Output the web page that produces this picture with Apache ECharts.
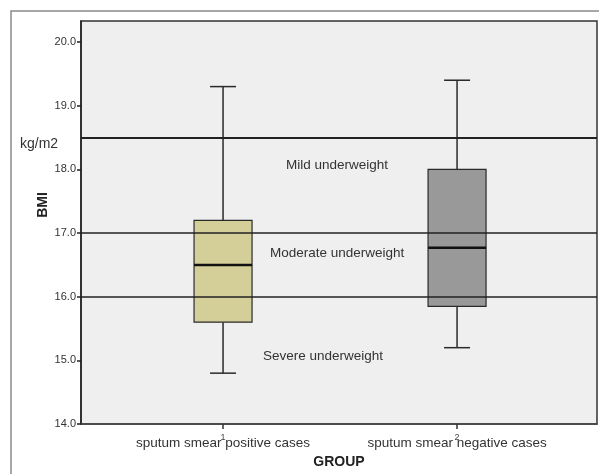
<!DOCTYPE html>
<html>
<head>
<meta charset="utf-8">
<script src="https://cdn.jsdelivr.net/npm/echarts@6/dist/echarts.min.js"></script>
<style>
html,body{margin:0;padding:0;background:#fff;}
#main{width:599px;height:474px;}
</style>
</head>
<body>
<div id="main"></div>
<script>
//数据
var groups = ['sputum smear positive cases', 'sputum smear negative cases']
var groupCodes = [1, 2]
// [min, Q1, median, Q3, max]
var positiveBox = [14.8, 15.6, 16.5, 17.2, 19.3]
var negativeBox = [15.2, 15.85, 16.77, 18.0, 19.4]
var boxColors = ['#d4cf98', '#999999']
var cutoffs = [18.5, 17.0, 16.0]
var yTicks = [14, 15, 16, 17, 18, 19, 20]
var zoneNames = ['Mild underweight', 'Moderate underweight', 'Severe underweight']

var myChart = echarts.init(document.getElementById('main'))
var fontFam = 'Liberation Sans, Arial, sans-serif'

var boxData = [
	[groupCodes[0]].concat(positiveBox),
	[groupCodes[1]].concat(negativeBox)
]

//箱线图 自己画,须线帽子短一些,中位线粗一些
function renderBox(params, api) {
	var x = api.value(0)
	var pMin = api.coord([x, api.value(1)])
	var pQ1 = api.coord([x, api.value(2)])
	var pMed = api.coord([x, api.value(3)])
	var pQ3 = api.coord([x, api.value(4)])
	var pMax = api.coord([x, api.value(5)])
	var cx = pMed[0]
	var halfBox = 29
	var halfCap = 13
	var lineSty = { stroke: '#2a2a2a', lineWidth: 1.5 }
	return {
		type: 'group',
		children: [
			{ type: 'line', shape: { x1: cx, y1: pMax[1], x2: cx, y2: pQ3[1] }, style: lineSty },
			{ type: 'line', shape: { x1: cx, y1: pQ1[1], x2: cx, y2: pMin[1] }, style: lineSty },
			{ type: 'line', shape: { x1: cx - halfCap, y1: pMax[1], x2: cx + halfCap, y2: pMax[1] }, style: lineSty },
			{ type: 'line', shape: { x1: cx - halfCap, y1: pMin[1], x2: cx + halfCap, y2: pMin[1] }, style: lineSty },
			{
				type: 'rect',
				shape: { x: cx - halfBox, y: pQ3[1], width: halfBox * 2, height: pQ1[1] - pQ3[1] },
				style: { fill: boxColors[params.dataIndex], stroke: '#2a2a2a', lineWidth: 1.2 }
			},
			{ type: 'line', shape: { x1: cx - halfBox, y1: pMed[1], x2: cx + halfBox, y2: pMed[1] }, style: { stroke: '#111', lineWidth: 2.5 } }
		]
	}
}

var option = {
	animation: false,
	textStyle: { fontFamily: fontFam },
	grid: {
		left: 81,
		right: 2,
		top: 21,
		bottom: 47,
		show: true,
		backgroundColor: '#efefef',
		borderColor: '#333',
		borderWidth: 1.5
	},
	xAxis: [
		{
			type: 'value',
			min: 0.393,
			max: 2.598,
			name: 'GROUP',
			nameLocation: 'middle',
			nameGap: 30,
			nameTextStyle: { fontWeight: 'bold', fontSize: 14, color: '#222', fontFamily: fontFam },
			splitLine: { show: false },
			axisLine: { lineStyle: { color: '#444', width: 1.5 } },
			axisTick: { customValues: groupCodes, length: 5, lineStyle: { color: '#333', width: 1.5 } },
			axisLabel: {
				customValues: groupCodes,
				margin: 12,
				fontSize: 13.5,
				color: '#333',
				formatter: function (v) { return groups[groupCodes.indexOf(v)] }
			}
		},
		{
			//SPSS 的组编号
			type: 'value',
			min: 0.393,
			max: 2.598,
			position: 'bottom',
			splitLine: { show: false },
			axisLine: { show: false },
			axisTick: { show: false },
			axisLabel: {
				customValues: groupCodes,
				margin: 9,
				fontSize: 9,
				color: '#444',
				formatter: function (v) { return String(v) }
			}
		}
	],
	yAxis: {
		type: 'value',
		min: 14,
		max: 20.33,
		interval: 1,
		splitLine: { show: false },
		axisLine: { show: true, lineStyle: { color: '#222', width: 1.5 } },
		axisTick: { show: true, customValues: yTicks, length: 4, lineStyle: { color: '#222', width: 1.5 } },
		axisLabel: {
			customValues: yTicks,
			fontSize: 11,
			color: '#333',
			margin: 5,
			formatter: function (v) { return v.toFixed(1) }
		}
	},
	series: [
		{
			type: 'custom',
			xAxisIndex: 0,
			renderItem: renderBox,
			encode: { x: 0, y: [1, 2, 3, 4, 5] },
			data: boxData,
			markLine: {
				silent: true,
				symbol: 'none',
				z: 10,
				label: { show: false },
				lineStyle: { color: '#222', type: 'solid', width: 1.5 },
				data: cutoffs.map(function (c, i) {
					return { yAxis: c, lineStyle: { width: i === 0 ? 2 : 1.5 } }
				})
			}
		}
	],
	graphic: [
		{
			type: 'rect',
			silent: true,
			z: -1,
			shape: { x: 11, y: 11, width: 700, height: 600 },
			style: { fill: 'none', stroke: '#8a8a8a', lineWidth: 1.5 }
		},
		{
			type: 'text', x: 43, y: 205, rotation: Math.PI / 2,
			style: { text: 'BMI', fontSize: 14, fontWeight: 'bold', fill: '#222', fontFamily: fontFam, align: 'center', verticalAlign: 'middle' }
		},
		{
			type: 'text', left: 20, top: 137,
			style: { text: 'kg/m2', fontSize: 14, fill: '#333', fontFamily: fontFam }
		},
		{
			type: 'text', left: 286, top: 158,
			style: { text: zoneNames[0], fontSize: 13.5, fill: '#333', fontFamily: fontFam }
		},
		{
			type: 'text', left: 270, top: 246,
			style: { text: zoneNames[1], fontSize: 13.5, fill: '#333', fontFamily: fontFam }
		},
		{
			type: 'text', left: 263, top: 349,
			style: { text: zoneNames[2], fontSize: 13.5, fill: '#333', fontFamily: fontFam }
		}
	]
}
myChart.setOption(option)
</script>
</body>
</html>
